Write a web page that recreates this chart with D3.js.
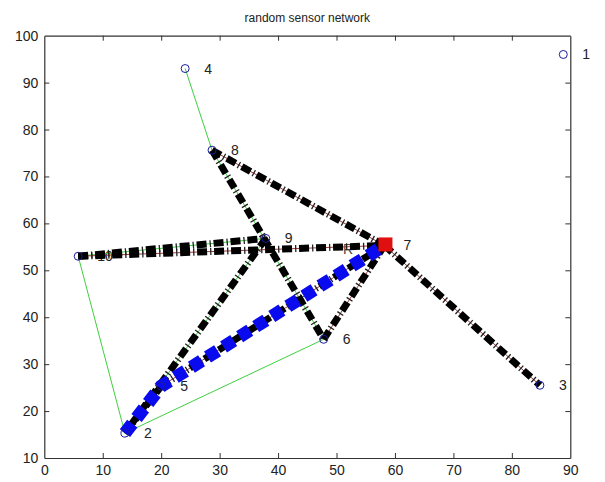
<!DOCTYPE html>
<html>
<head>
<meta charset="utf-8">
<script src="https://cdn.jsdelivr.net/npm/d3@7"></script>
<style>
  html, body { margin: 0; padding: 0; background: #fff; }
  svg { display: block; }
  text { font-family: "Liberation Sans", Arial, sans-serif; }
</style>
</head>
<body>
<svg id="chart" width="605" height="482"></svg>
<script>
// ---- data ----
const titleText = "random sensor network";
const nodeIds = [1, 2, 3, 4, 5, 6, 7, 8, 9, 10];
const nodeX = [88.8, 13.8, 84.8, 24.1, 20.0, 47.8, 58.2, 28.7, 37.9, 5.8];
const nodeY = [96.0, 15.3, 25.5, 93.0, 25.3, 35.3, 55.3, 75.6, 56.8, 53.0];
const sinkNode = 7;
const extraLabelText = ["R"];
const extraLabelX = [51.1];
const extraLabelY = [54.6];
// thin green links
const greenLinks = [[4, 8], [10, 2], [2, 6], [10, 9], [8, 6], [9, 2]];
// thin brown links
const brownLinks = [[8, 7], [7, 3], [10, 7], [6, 7], [2, 5], [5, 7]];
// links carrying perpendicular tick marks
const tickedLinks = [[8, 7], [7, 3], [10, 7], [6, 7], [10, 9], [8, 6], [9, 2], [2, 5], [5, 7]];
// thick black dashed routes
const blackRoutes = [[8, 7], [7, 3], [10, 7], [10, 9], [8, 6], [9, 2], [6, 7], [2, 5], [5, 7]];
// blue thick dashed route
const blueRoute = [2, 5, 7];
const xTicks = [0, 10, 20, 30, 40, 50, 60, 70, 80, 90];
const yTicks = [10, 20, 30, 40, 50, 60, 70, 80, 90, 100];

// ---- drawing ----
const svg = d3.select("#chart");
const x = d3.scaleLinear().domain([0, 90]).range([44.3, 570.3]);
const y = d3.scaleLinear().domain([10, 100]).range([458, 35.7]);
const nodeById = {};
nodeIds.forEach((id, i) => nodeById[id] = { id, x: nodeX[i], y: nodeY[i] });

svg.append("text")
  .attr("x", (x(0) + x(90)) / 2).attr("y", 22)
  .attr("text-anchor", "middle")
  .attr("font-size", 12).attr("fill", "#222")
  .text(titleText);

const plot = svg.append("g");

function linePath(ids) {
  return d3.line().x(d => x(nodeById[d].x)).y(d => y(nodeById[d].y))(ids);
}

// labels (under the thick routes, as in the reference)
const labelG = plot.append("g");
labelG.selectAll("text.node").data(nodeIds).join("text")
  .attr("class", "node")
  .attr("x", d => x(nodeById[d].x) + 19)
  .attr("y", d => y(nodeById[d].y) + 5)
  .attr("font-size", 14).attr("fill", "#222")
  .text(d => d);
labelG.selectAll("text.extra").data(extraLabelText).join("text")
  .attr("class", "extra")
  .attr("x", (d, i) => x(extraLabelX[i]))
  .attr("y", (d, i) => y(extraLabelY[i]) + 5)
  .attr("font-size", 14).attr("fill", "#444")
  .text(d => d);

// green thin links
plot.append("g").selectAll("path").data(greenLinks).join("path")
  .attr("d", d => linePath(d))
  .attr("fill", "none").attr("stroke", "#3fcf3f").attr("stroke-width", 1);

// brown thin links
plot.append("g").selectAll("path").data(brownLinks).join("path")
  .attr("d", d => linePath(d))
  .attr("fill", "none").attr("stroke", "#9a3a3a").attr("stroke-width", 1);

// tick marks in the gaps of the dashed routes
plot.append("g").selectAll("path").data(tickedLinks).join("path")
  .attr("d", d => linePath(d))
  .attr("fill", "none").attr("stroke", "#222").attr("stroke-width", 7)
  .attr("stroke-dasharray", "1.3,15.7").attr("stroke-dashoffset", -13);

// black thick dashed routes
plot.append("g").selectAll("path").data(blackRoutes).join("path")
  .attr("d", d => linePath(d))
  .attr("fill", "none").attr("stroke", "#000").attr("stroke-width", 7)
  .attr("stroke-dasharray", "10,7");

// blue route
plot.append("path")
  .attr("d", linePath(blueRoute))
  .attr("fill", "none").attr("stroke", "#0a0aee").attr("stroke-width", 13)
  .attr("stroke-dasharray", "12,7");

// node circles
plot.append("g").selectAll("circle").data(nodeIds).join("circle")
  .attr("cx", d => x(nodeById[d].x))
  .attr("cy", d => y(nodeById[d].y))
  .attr("r", 4)
  .attr("fill", "none").attr("stroke", "#1c1c9a").attr("stroke-width", 1);

// sink: red square
plot.append("rect")
  .attr("x", x(nodeById[sinkNode].x) - 6)
  .attr("y", y(nodeById[sinkNode].y) - 8)
  .attr("width", 14).attr("height", 14)
  .attr("fill", "#e01010");

// axes (inward ticks, box)
const axisColor = "#333";
const gB = svg.append("g").attr("transform", `translate(0,${y(10)})`)
  .call(d3.axisBottom(x).tickValues(xTicks).tickSizeInner(-5).tickSizeOuter(0).tickPadding(7));
const gT = svg.append("g").attr("transform", `translate(0,${y(100)})`)
  .call(d3.axisTop(x).tickValues(xTicks).tickSizeInner(-5).tickSizeOuter(0).tickFormat(""));
const gL = svg.append("g").attr("transform", `translate(${x(0)},0)`)
  .call(d3.axisLeft(y).tickValues(yTicks).tickSizeInner(-5).tickSizeOuter(0).tickPadding(6));
const gR = svg.append("g").attr("transform", `translate(${x(90)},0)`)
  .call(d3.axisRight(y).tickValues(yTicks).tickSizeInner(-5).tickSizeOuter(0).tickFormat(""));
[gB, gT, gL, gR].forEach(g => {
  g.select(".domain").attr("stroke", axisColor).attr("stroke-width", 1.2);
  g.selectAll(".tick line").attr("stroke", axisColor);
  g.selectAll(".tick text").attr("font-size", 14).attr("fill", "#222")
    .attr("font-family", "'Liberation Sans', Arial, sans-serif");
});
[gB, gT].forEach(g => g.selectAll(".tick line").filter(d => d === 0 || d === 90).remove());
[gL, gR].forEach(g => g.selectAll(".tick line").filter(d => d === 10 || d === 100).remove());
</script>
</body>
</html>
